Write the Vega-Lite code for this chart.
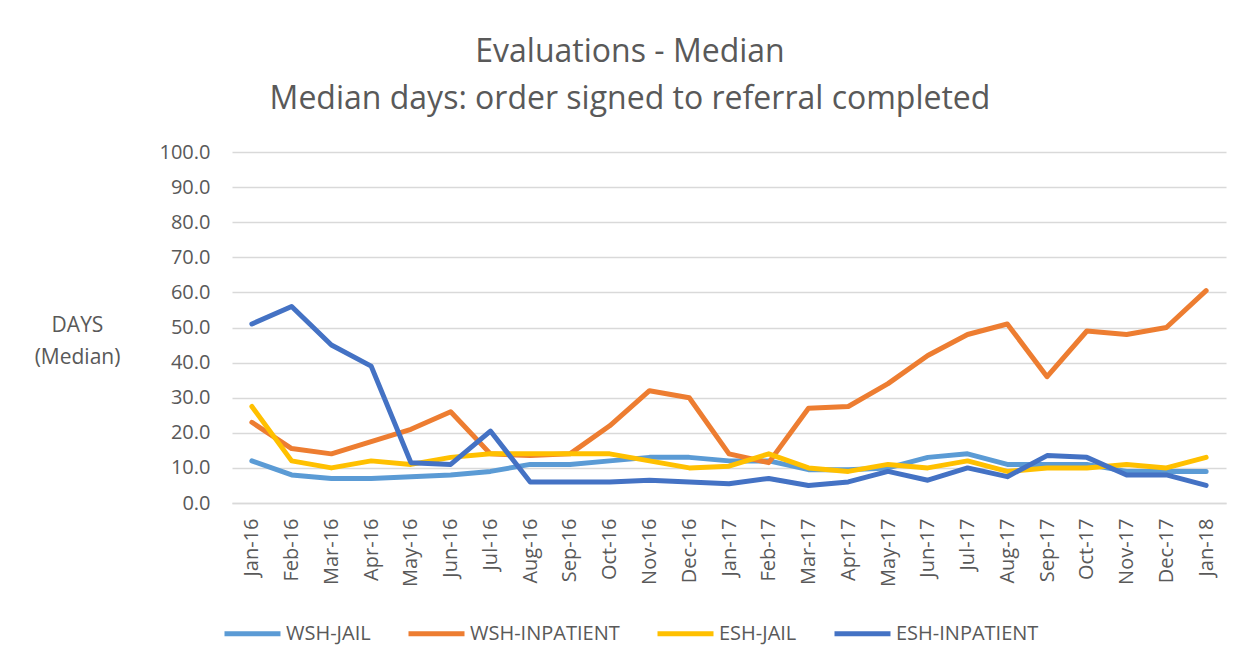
{
  "$schema": "https://vega.github.io/schema/vega-lite/v6.json",
  "autosize": "none",
  "width": 994,
  "height": 351,
  "padding": {"left": 232, "top": 152, "right": 27, "bottom": 166},
  "background": "white",
  "config": {
    "view": {"stroke": null},
    "font": "Open Sans",
    "text": {"font": "Open Sans"}
  },
  "title": {
    "text": ["Evaluations - Median", "Median days: order signed to referral completed"],
    "fontSize": 32,
    "fontWeight": "normal",
    "font": "Open Sans",
    "color": "#595959",
    "lineHeight": 47,
    "anchor": "middle",
    "dx": -99,
    "offset": 26
  },
  "datasets": {
    "d": [
      {"month": "Jan-16", "series": "WSH-JAIL", "days": 12},
      {"month": "Feb-16", "series": "WSH-JAIL", "days": 8},
      {"month": "Mar-16", "series": "WSH-JAIL", "days": 7},
      {"month": "Apr-16", "series": "WSH-JAIL", "days": 7},
      {"month": "May-16", "series": "WSH-JAIL", "days": 7.5},
      {"month": "Jun-16", "series": "WSH-JAIL", "days": 8},
      {"month": "Jul-16", "series": "WSH-JAIL", "days": 9},
      {"month": "Aug-16", "series": "WSH-JAIL", "days": 11},
      {"month": "Sep-16", "series": "WSH-JAIL", "days": 11},
      {"month": "Oct-16", "series": "WSH-JAIL", "days": 12},
      {"month": "Nov-16", "series": "WSH-JAIL", "days": 13},
      {"month": "Dec-16", "series": "WSH-JAIL", "days": 13},
      {"month": "Jan-17", "series": "WSH-JAIL", "days": 12},
      {"month": "Feb-17", "series": "WSH-JAIL", "days": 12},
      {"month": "Mar-17", "series": "WSH-JAIL", "days": 9.5},
      {"month": "Apr-17", "series": "WSH-JAIL", "days": 9.5},
      {"month": "May-17", "series": "WSH-JAIL", "days": 10},
      {"month": "Jun-17", "series": "WSH-JAIL", "days": 13},
      {"month": "Jul-17", "series": "WSH-JAIL", "days": 14},
      {"month": "Aug-17", "series": "WSH-JAIL", "days": 11},
      {"month": "Sep-17", "series": "WSH-JAIL", "days": 11},
      {"month": "Oct-17", "series": "WSH-JAIL", "days": 11},
      {"month": "Nov-17", "series": "WSH-JAIL", "days": 9},
      {"month": "Dec-17", "series": "WSH-JAIL", "days": 9},
      {"month": "Jan-18", "series": "WSH-JAIL", "days": 9},
      {"month": "Jan-16", "series": "WSH-INPATIENT", "days": 23},
      {"month": "Feb-16", "series": "WSH-INPATIENT", "days": 15.5},
      {"month": "Mar-16", "series": "WSH-INPATIENT", "days": 14},
      {"month": "Apr-16", "series": "WSH-INPATIENT", "days": 17.5},
      {"month": "May-16", "series": "WSH-INPATIENT", "days": 21},
      {"month": "Jun-16", "series": "WSH-INPATIENT", "days": 26},
      {"month": "Jul-16", "series": "WSH-INPATIENT", "days": 14},
      {"month": "Aug-16", "series": "WSH-INPATIENT", "days": 13.5},
      {"month": "Sep-16", "series": "WSH-INPATIENT", "days": 14},
      {"month": "Oct-16", "series": "WSH-INPATIENT", "days": 22},
      {"month": "Nov-16", "series": "WSH-INPATIENT", "days": 32},
      {"month": "Dec-16", "series": "WSH-INPATIENT", "days": 30},
      {"month": "Jan-17", "series": "WSH-INPATIENT", "days": 14},
      {"month": "Feb-17", "series": "WSH-INPATIENT", "days": 11.5},
      {"month": "Mar-17", "series": "WSH-INPATIENT", "days": 27},
      {"month": "Apr-17", "series": "WSH-INPATIENT", "days": 27.5},
      {"month": "May-17", "series": "WSH-INPATIENT", "days": 34},
      {"month": "Jun-17", "series": "WSH-INPATIENT", "days": 42},
      {"month": "Jul-17", "series": "WSH-INPATIENT", "days": 48},
      {"month": "Aug-17", "series": "WSH-INPATIENT", "days": 51},
      {"month": "Sep-17", "series": "WSH-INPATIENT", "days": 36},
      {"month": "Oct-17", "series": "WSH-INPATIENT", "days": 49},
      {"month": "Nov-17", "series": "WSH-INPATIENT", "days": 48},
      {"month": "Dec-17", "series": "WSH-INPATIENT", "days": 50},
      {"month": "Jan-18", "series": "WSH-INPATIENT", "days": 60.5},
      {"month": "Jan-16", "series": "ESH-JAIL", "days": 27.5},
      {"month": "Feb-16", "series": "ESH-JAIL", "days": 12},
      {"month": "Mar-16", "series": "ESH-JAIL", "days": 10},
      {"month": "Apr-16", "series": "ESH-JAIL", "days": 12},
      {"month": "May-16", "series": "ESH-JAIL", "days": 11},
      {"month": "Jun-16", "series": "ESH-JAIL", "days": 13},
      {"month": "Jul-16", "series": "ESH-JAIL", "days": 14},
      {"month": "Aug-16", "series": "ESH-JAIL", "days": 14},
      {"month": "Sep-16", "series": "ESH-JAIL", "days": 14},
      {"month": "Oct-16", "series": "ESH-JAIL", "days": 14},
      {"month": "Nov-16", "series": "ESH-JAIL", "days": 12},
      {"month": "Dec-16", "series": "ESH-JAIL", "days": 10},
      {"month": "Jan-17", "series": "ESH-JAIL", "days": 10.5},
      {"month": "Feb-17", "series": "ESH-JAIL", "days": 14},
      {"month": "Mar-17", "series": "ESH-JAIL", "days": 10},
      {"month": "Apr-17", "series": "ESH-JAIL", "days": 9},
      {"month": "May-17", "series": "ESH-JAIL", "days": 11},
      {"month": "Jun-17", "series": "ESH-JAIL", "days": 10},
      {"month": "Jul-17", "series": "ESH-JAIL", "days": 12},
      {"month": "Aug-17", "series": "ESH-JAIL", "days": 9},
      {"month": "Sep-17", "series": "ESH-JAIL", "days": 10},
      {"month": "Oct-17", "series": "ESH-JAIL", "days": 10},
      {"month": "Nov-17", "series": "ESH-JAIL", "days": 11},
      {"month": "Dec-17", "series": "ESH-JAIL", "days": 10},
      {"month": "Jan-18", "series": "ESH-JAIL", "days": 13},
      {"month": "Jan-16", "series": "ESH-INPATIENT", "days": 51},
      {"month": "Feb-16", "series": "ESH-INPATIENT", "days": 56},
      {"month": "Mar-16", "series": "ESH-INPATIENT", "days": 45},
      {"month": "Apr-16", "series": "ESH-INPATIENT", "days": 39},
      {"month": "May-16", "series": "ESH-INPATIENT", "days": 11.5},
      {"month": "Jun-16", "series": "ESH-INPATIENT", "days": 11},
      {"month": "Jul-16", "series": "ESH-INPATIENT", "days": 20.5},
      {"month": "Aug-16", "series": "ESH-INPATIENT", "days": 6},
      {"month": "Sep-16", "series": "ESH-INPATIENT", "days": 6},
      {"month": "Oct-16", "series": "ESH-INPATIENT", "days": 6},
      {"month": "Nov-16", "series": "ESH-INPATIENT", "days": 6.5},
      {"month": "Dec-16", "series": "ESH-INPATIENT", "days": 6},
      {"month": "Jan-17", "series": "ESH-INPATIENT", "days": 5.5},
      {"month": "Feb-17", "series": "ESH-INPATIENT", "days": 7},
      {"month": "Mar-17", "series": "ESH-INPATIENT", "days": 5},
      {"month": "Apr-17", "series": "ESH-INPATIENT", "days": 6},
      {"month": "May-17", "series": "ESH-INPATIENT", "days": 9},
      {"month": "Jun-17", "series": "ESH-INPATIENT", "days": 6.5},
      {"month": "Jul-17", "series": "ESH-INPATIENT", "days": 10},
      {"month": "Aug-17", "series": "ESH-INPATIENT", "days": 7.5},
      {"month": "Sep-17", "series": "ESH-INPATIENT", "days": 13.5},
      {"month": "Oct-17", "series": "ESH-INPATIENT", "days": 13},
      {"month": "Nov-17", "series": "ESH-INPATIENT", "days": 8},
      {"month": "Dec-17", "series": "ESH-INPATIENT", "days": 8},
      {"month": "Jan-18", "series": "ESH-INPATIENT", "days": 5}
    ]
  },
  "data": {"name": "d"},
  "mark": {"type": "line", "strokeWidth": 5, "strokeCap": "round", "strokeJoin": "round"},
  "encoding": {
    "x": {
      "field": "month",
      "type": "ordinal",
      "sort": null,
      "scale": {"type": "point", "padding": 0.5},
      "axis": {
        "title": null,
        "labelAngle": -90,
        "labelAlign": "right",
        "labelBaseline": "middle",
        "labelPadding": 15,
        "labelFontSize": 20,
        "labelColor": "#595959",
        "labelFont": "Open Sans",
        "ticks": false,
        "domainColor": "#D9D9D9",
        "domainWidth": 1.5,
        "grid": false
      }
    },
    "y": {
      "field": "days",
      "type": "quantitative",
      "scale": {"domain": [0, 100], "nice": false},
      "axis": {
        "values": [0, 10, 20, 30, 40, 50, 60, 70, 80, 90, 100],
        "format": ".1f",
        "domain": false,
        "ticks": false,
        "labelPadding": 22,
        "labelFontSize": 20,
        "labelColor": "#595959",
        "labelFont": "Open Sans",
        "gridColor": "#D9D9D9",
        "gridWidth": 1.5,
        "title": ["DAYS", "(Median)"],
        "titleAngle": 0,
        "titleFontSize": 21,
        "titleFontWeight": "normal",
        "titleFont": "Open Sans",
        "titleColor": "#595959",
        "titleLineHeight": 32,
        "titleAlign": "center",
        "titleBaseline": "top",
        "titleX": -155,
        "titleY": 162
      }
    },
    "color": {
      "field": "series",
      "type": "nominal",
      "sort": ["WSH-JAIL", "WSH-INPATIENT", "ESH-JAIL", "ESH-INPATIENT"],
      "scale": {
        "domain": ["WSH-JAIL", "WSH-INPATIENT", "ESH-JAIL", "ESH-INPATIENT"],
        "range": ["#5B9BD5", "#ED7D31", "#FFC000", "#4472C4"]
      },
      "legend": {
        "title": null,
        "orient": "none",
        "direction": "horizontal",
        "columns": 4,
        "legendX": -10,
        "legendY": 451,
        "symbolType": "stroke",
        "symbolSize": 3136,
        "symbolStrokeWidth": 5,
        "labelFontSize": 20,
        "labelFont": "Open Sans",
        "labelColor": "#595959",
        "labelOffset": 3,
        "columnPadding": 27
      }
    }
  }
}
